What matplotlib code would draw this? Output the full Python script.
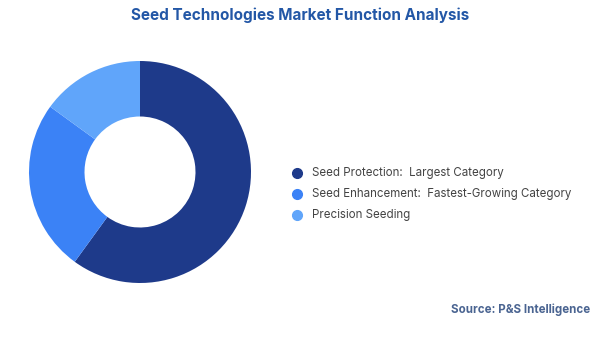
import matplotlib.pyplot as plt
from matplotlib.lines import Line2D

labels = ['Seed Protection', 'Seed Enhancement', 'Precision Seeding']
notes = ['Largest Category', 'Fastest-Growing Category', '']
shares = [60, 25, 15]
colors = ['#1E3A8A', '#3B82F6', '#60A5FA']

plt.rcParams['font.family'] = ['Inter', 'DejaVu Sans']

fig = plt.figure(figsize=(6, 3.37), dpi=100)

# donut
ax = fig.add_axes([29 / 600, 54 / 337, 222 / 600, 222 / 337])
ax.pie(shares, colors=colors, startangle=90, counterclock=False,
       wedgeprops=dict(width=0.5, edgecolor='none'))
ax.set_xlim(-1, 1)
ax.set_ylim(-1, 1)
ax.set_aspect('equal')
ax.axis('off')

fig.text(0.5, 1 - 15 / 337, 'Seed Technologies Market Function Analysis',
         ha='center', va='center', fontsize=11, fontweight='bold', color='#2357A6')

# legend
for i, (lab, note, c) in enumerate(zip(labels, notes, colors)):
    y = 1 - (173 + i * 21) / 337
    fig.add_artist(Line2D([297 / 600], [y], marker='o', markersize=7,
                          color=c, transform=fig.transFigure))
    txt = lab + (':  ' + note if note else '')
    fig.text(312 / 600, y, txt, ha='left', va='center', fontsize=8.3, color='#444444')

fig.text(590 / 600, 1 - 310 / 337, 'Source: P&S Intelligence', ha='right', va='center',
         fontsize=8.3, fontweight='bold', color='#4A6491')

fig.savefig('out.png', dpi=100)
